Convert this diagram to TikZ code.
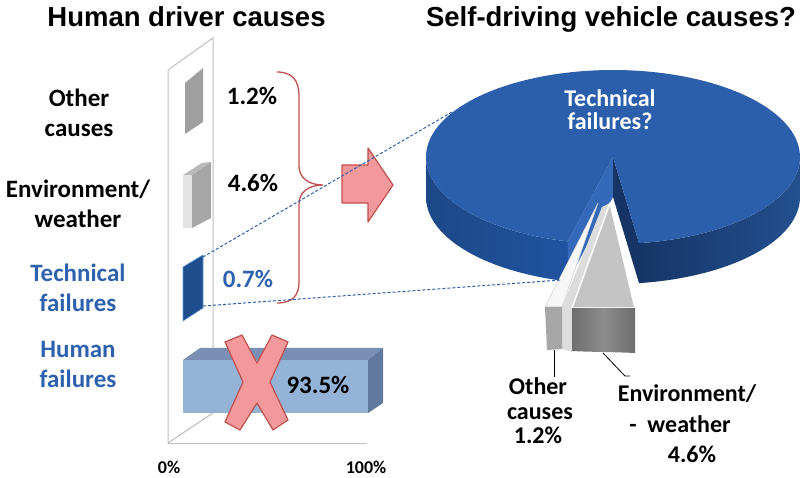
\documentclass[tikz,border=0pt]{standalone}
\usepackage{fontspec}
\setmainfont{Carlito}
\newfontfamily\arialfont{Liberation Sans}
\definecolor{pietop}{HTML}{2B5FAB}
\definecolor{pieside}{HTML}{2053A0}
\definecolor{piesideL}{HTML}{1C4888}
\definecolor{piesideD}{HTML}{163566}
\definecolor{piesideR}{HTML}{22508F}
\definecolor{piewallL}{HTML}{3369B8}
\definecolor{labelblue}{HTML}{2F62AE}
\definecolor{xred}{HTML}{F4999B}
\definecolor{xredline}{HTML}{C0504D}
\definecolor{barfront}{HTML}{95B3D7}
\definecolor{bartop}{HTML}{7990B4}
\definecolor{barside}{HTML}{61799C}
\definecolor{techbar}{HTML}{1F4E8F}
\definecolor{techedge}{HTML}{5B9BD5}
\definecolor{gridgray}{HTML}{BFBFBF}
\definecolor{dashblue}{HTML}{2E5FAA}
\definecolor{slicefrontA}{HTML}{6E6E6E}
\definecolor{slicefrontB}{HTML}{8C8C8C}
\definecolor{slicetop}{HTML}{C4C4C4}
\definecolor{slicewall}{HTML}{DCDCDC}
\definecolor{smallfront}{HTML}{A6A6A6}
\begin{document}
\begin{tikzpicture}[x=1pt,y=-1pt,
  title/.style={font=\arialfont\fontsize{27.5}{32}\selectfont\bfseries, anchor=base, inner sep=0pt},
  lbl/.style={font=\fontsize{25}{30}\selectfont\bfseries, anchor=base, inner sep=0pt},
  pielbl/.style={font=\fontsize{24}{28}\selectfont\bfseries, anchor=base, inner sep=0pt},
  axislbl/.style={font=\fontsize{18}{22}\selectfont\bfseries, anchor=base, inner sep=0pt},
  frame/.style={draw=gridgray, line width=1pt},
  dashconn/.style={draw=dashblue, line width=1pt, dash pattern=on 3pt off 2pt},
  leader/.style={draw=black, line width=0.8pt},
  bracepath/.style={draw=xredline, line width=1.3pt},
  redshape/.style={fill=xred, draw=xredline, line width=1.2pt, line join=round}
]
\useasboundingbox (0,0) rectangle (801,478);
\fill[white] (0,0) rectangle (801,478);

% ---------- titles
\node[title] (t1) at (186.5,27) {Human driver causes};
\node[title] (t2) at (611,27) {Self-driving vehicle causes?};

% ---------- chart frame
\draw[frame] (168,443) -- (168,70) -- (213,38) -- (213,413);
\draw[frame] (168,443) -- (367,443);
\draw[frame] (168,443) -- (213,413);

% ---------- bars
% other causes
\fill[gray!75] (185,83) -- (203,68) -- (203,122) -- (185,134) -- cycle;
% environment / weather
\fill[gray!22] (183,175) -- (192,175) -- (192,228) -- (183,228) -- cycle;
\fill[gray!70] (192,175) -- (211,162) -- (211,218) -- (192,228) -- cycle;
\fill[gray!55] (183,175) -- (202,163) -- (211,162) -- (192,175) -- cycle;
% technical
\filldraw[fill=techbar, draw=techedge, line width=0.6pt] (183,267) -- (203,255) -- (203,308) -- (183,321) -- cycle;
\coordinate (tbTop) at (203,257);
\coordinate (tbBot) at (203,306);
% human failures
\fill[barfront] (183,360) rectangle (368,413);
\fill[bartop] (183,360) -- (200,348) -- (383,348) -- (368,360) -- cycle;
\fill[barside] (368,360) -- (383,348) -- (383,403) -- (368,413) -- cycle;

% ---------- left labels
\node[lbl] (oc1) at (79,107) {Other};
\node[lbl] (oc2) at (79,137) {causes};
\node[lbl] (ew1) at (78,198) {Environment/};
\node[lbl] (ew2) at (78,228) {weather};
\node[lbl, text=labelblue] (tf1) at (78,282) {Technical};
\node[lbl, text=labelblue] (tf2) at (78,312) {failures};
\node[lbl, text=labelblue] (hf1) at (78,358) {Human};
\node[lbl, text=labelblue] (hf2) at (78,388) {failures};

% ---------- percentages
\node[lbl] (p1) at (252,105) {1.2\%};
\node[lbl] (p2) at (253,192) {4.6\%};
\node[lbl, text=labelblue] (p3) at (248,288) {0.7\%};

% ---------- red X
\filldraw[redshape] (225,342) -- (242,335) -- (257,363) -- (272,335) -- (288,342) -- (270,382)
  -- (288,420) -- (273,430) -- (257,403) -- (240,430) -- (225,422) -- (243,382) -- cycle;
\node[lbl] (p4) at (318,393) {93.5\%};

% ---------- axis labels
\node[axislbl] (ax0) at (169,473) {0\%};
\node[axislbl] (ax1) at (366,473) {100\%};

% ---------- brace
\draw[bracepath] (277,72) .. controls (292,72) and (299,80) .. (299,96) -- (299,166)
  .. controls (299,178) and (309,185) .. (323,185)
  .. controls (309,185) and (299,192) .. (299,204) -- (299,282)
  .. controls (299,296) and (292,303) .. (277,303);

% ---------- block arrow
\filldraw[redshape] (342,165) -- (368,165) -- (368,148) -- (393,185) -- (368,222) -- (368,203) -- (342,203) -- cycle;

% ---------- pie (center 613,157; a=187, b=87; depth 40)
% right side face
\shade[left color=piesideD, right color=piesideR]
  plot[domain=0:82, samples=40] ({613+187*cos(\x)},{157+87*sin(\x)})
  -- plot[domain=82:0, samples=40] ({613+187*cos(\x)},{197+87*sin(\x)}) -- cycle;
% left side face
\shade[left color=piesideL, right color=pieside]
  plot[domain=104:180, samples=40] ({613+187*cos(\x)},{157+87*sin(\x)})
  -- plot[domain=180:104, samples=40] ({613+187*cos(\x)},{197+87*sin(\x)}) -- cycle;
% cut walls
\fill[piewallL] (613,157) -- ({613+187*cos(104)},{157+87*sin(104)}) -- ({613+187*cos(104)},{197+87*sin(104)}) -- (613,197) -- cycle;
\fill[piesideD] (613,157) -- ({613+187*cos(82)},{157+87*sin(82)}) -- ({613+187*cos(82)},{197+87*sin(82)}) -- (613,197) -- cycle;
% top face
\fill[pietop] (613,157) -- plot[domain=104:442, samples=120] ({613+187*cos(\x)},{157+87*sin(\x)}) -- cycle;
\coordinate (pieL) at (452,112);
\coordinate (pieB) at (561,280);

\node[pielbl, text=white] (pt1) at (610,107) {Technical};
\node[pielbl, text=white] (pt2) at (610,130) {failures?};

% ---------- exploded slices
\fill[slicewall] (602,207) -- (562,307) -- (562,349) -- (572,352) -- (572,308) -- (610,203) -- cycle;
\filldraw[fill=gray!6, draw=gray!35, line width=0.5pt] (598,203) -- (545,307) -- (562,307) -- cycle;
\fill[smallfront] (545,307) -- (562,307) -- (562,349) -- (547,350) -- cycle;
\filldraw[fill=slicetop, draw=white, line width=1.5pt, line join=round] (610,203) -- (572,308) -- (635,308) -- cycle;
\shade[left color=slicefrontA, right color=slicefrontA, middle color=slicefrontB]
  (572,308) -- (635,308) -- (635,353) .. controls (615,352) and (590,352) .. (572,351) -- cycle;
\coordinate (s1) at (554,350);
\coordinate (s1b) at (554,377);
\coordinate (s2) at (603,353);
\coordinate (s2b) at (625,376);
\coordinate (s2c) at (630,376);

% ---------- dashed connectors
\draw[dashconn] (tbTop) -- (pieL);
\draw[dashconn] (tbBot) -- (pieB);

% ---------- slice labels
\draw[leader] (s1) -- (s1b);
\draw[leader] (s2) -- (s2b) -- (s2c);
\node[pielbl] (o1) at (538,395) {Other};
\node[pielbl] (o2) at (540,420) {causes};
\node[pielbl] (o3) at (538,443) {1.2\%};
\node[pielbl] (e1) at (687,402) {Environment/};
\node[pielbl] (e2) at (680,432) {-\ \ weather};
\node[pielbl] (e3) at (692,462) {4.6\%};
\end{tikzpicture}
\end{document}
